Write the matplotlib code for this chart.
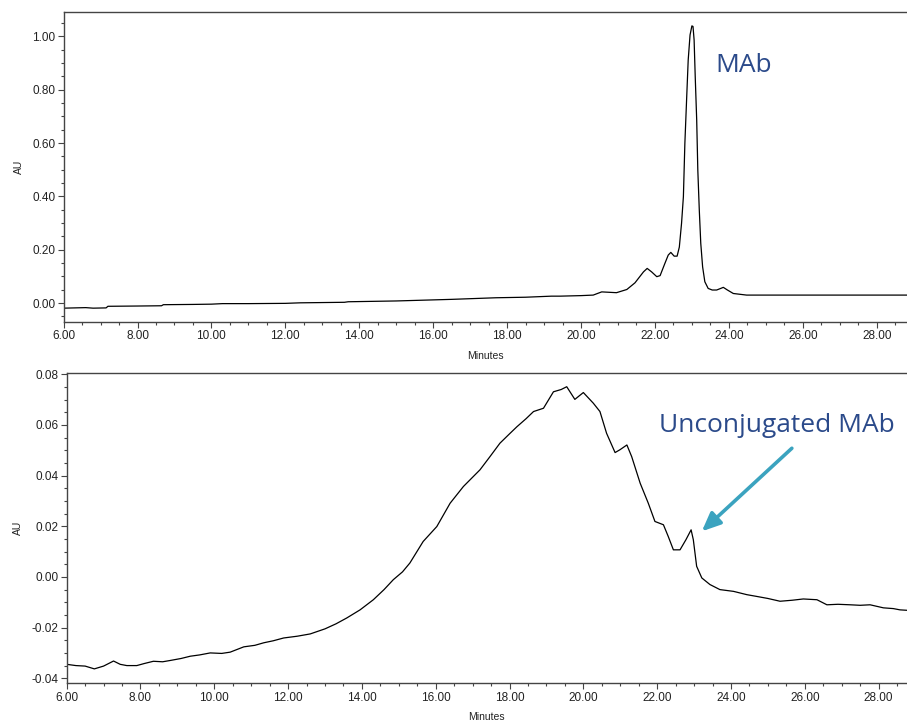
import numpy as np
import matplotlib.pyplot as plt
from matplotlib.ticker import MultipleLocator, FormatStrFormatter

# top trace (MAb), minutes vs AU
t_top = [6.0, 6.3, 6.6, 6.8, 7.15, 7.2, 8.0, 8.65, 8.7, 9.5, 10.0, 10.3, 11.0, 12.0,
         12.4, 13.6, 13.7, 15.0, 16.5, 17.7, 18.5, 19.2, 19.43, 20.0, 20.33, 20.56,
         20.96, 21.24, 21.46, 21.69, 21.79, 21.91, 22.05, 22.14, 22.27, 22.36, 22.43,
         22.52, 22.6, 22.66, 22.72, 22.77, 22.81, 22.86, 22.9, 22.95, 23.0, 23.03,
         23.06, 23.09, 23.13, 23.16, 23.2, 23.24, 23.29, 23.35, 23.44, 23.55, 23.67,
         23.78, 23.85, 23.95, 24.12, 24.48, 25.5, 26.5, 27.5, 28.85]
au_top = [-0.019, -0.018, -0.017, -0.019, -0.018, -0.012, -0.011, -0.010, -0.006,
          -0.005, -0.004, -0.002, -0.002, -0.001, 0.001, 0.003, 0.005, 0.008, 0.014,
          0.020, 0.022, 0.026, 0.026, 0.028, 0.030, 0.042, 0.039, 0.051, 0.076, 0.117,
          0.130, 0.117, 0.099, 0.103, 0.149, 0.180, 0.190, 0.176, 0.176, 0.210, 0.299,
          0.399, 0.599, 0.774, 0.911, 1.005, 1.039, 1.037, 0.986, 0.849, 0.686, 0.499,
          0.349, 0.224, 0.136, 0.080, 0.055, 0.049, 0.049, 0.055, 0.059, 0.050, 0.036,
          0.030, 0.030, 0.030, 0.030, 0.030]

# bottom trace (conjugate)
t_bot = [6.0, 6.25, 6.5, 6.75, 7.0, 7.27, 7.45, 7.63, 7.9, 8.1, 8.35, 8.6, 8.8, 9.1,
         9.35, 9.6, 9.89, 10.2, 10.43, 10.8, 11.1, 11.34, 11.6, 11.88, 12.25, 12.6,
         13.0, 13.3, 13.59, 13.95, 14.31, 14.6, 14.85, 15.1, 15.3, 15.66, 16.03, 16.39,
         16.75, 17.2, 17.47, 17.74, 18.0, 18.2, 18.45, 18.65, 18.92, 19.19, 19.4, 19.55,
         19.77, 20.0, 20.27, 20.45, 20.63, 20.86, 20.99, 21.18, 21.31, 21.54, 21.76,
         21.94, 22.17, 22.3, 22.44, 22.62, 22.78, 22.92, 22.98, 23.07, 23.21, 23.43,
         23.7, 24.07, 24.43, 24.7, 25.0, 25.33, 25.66, 25.96, 26.33, 26.6, 26.9, 27.23,
         27.5, 27.77, 28.13, 28.4, 28.58, 28.8]
au_bot = [-0.0345, -0.0350, -0.0352, -0.0363, -0.0352, -0.0332, -0.0345, -0.0350,
          -0.0350, -0.0342, -0.0333, -0.0335, -0.0330, -0.0322, -0.0313, -0.0308,
          -0.0300, -0.0302, -0.0297, -0.0276, -0.0270, -0.0260, -0.0252, -0.0241,
          -0.0234, -0.0225, -0.0205, -0.0185, -0.0162, -0.0130, -0.0090, -0.0050,
          -0.0011, 0.0020, 0.0055, 0.0140, 0.0199, 0.0291, 0.0357, 0.0423, 0.0475,
          0.0528, 0.0565, 0.0593, 0.0625, 0.0653, 0.0666, 0.0731, 0.0740, 0.0751,
          0.0701, 0.0728, 0.0686, 0.0653, 0.0567, 0.0491, 0.0502, 0.0521, 0.0475,
          0.0370, 0.0291, 0.0219, 0.0206, 0.0160, 0.0107, 0.0107, 0.0147, 0.0186,
          0.0147, 0.0042, -0.0004, -0.0030, -0.0050, -0.0057, -0.0070, -0.0077,
          -0.0085, -0.0096, -0.0092, -0.0087, -0.0090, -0.0110, -0.0108, -0.0110,
          -0.0112, -0.0110, -0.0122, -0.0125, -0.0130, -0.0132]

plt.rcParams['font.family'] = ['Liberation Sans', 'DejaVu Sans']

fig = plt.figure(figsize=(9.07, 7.24), dpi=100)
ax1 = fig.add_axes([0.0701, 0.5552, 0.9299, 0.4282])
ax2 = fig.add_axes([0.0735, 0.0562, 0.9265, 0.4282])

spine_col = '#444444'
txt_col = '#2B4A8A'

for ax in (ax1, ax2):
    ax.spines['right'].set_visible(False)
    for s in ('left', 'top', 'bottom'):
        ax.spines[s].set_color(spine_col)
        ax.spines[s].set_linewidth(1.0)
    ax.xaxis.set_major_locator(MultipleLocator(2))
    ax.xaxis.set_minor_locator(MultipleLocator(0.5))
    ax.xaxis.set_major_formatter(FormatStrFormatter('%.2f'))
    ax.yaxis.set_major_formatter(FormatStrFormatter('%.2f'))
    ax.tick_params(which='major', length=4, width=0.8, color=spine_col,
                   labelsize=8.5, labelcolor='#222222', pad=2)
    ax.tick_params(which='minor', length=2.2, width=0.8, color=spine_col)
    ax.set_xlabel('Minutes', fontsize=7.5, color='#222222', labelpad=6)
    ax.set_ylabel('AU', fontsize=7.5, color='#222222', labelpad=6)

ax1.plot(t_top, au_top, color='black', lw=0.9)
ax1.set_xlim(6, 28.82)
ax1.set_ylim(-0.071, 1.091)
ax1.yaxis.set_major_locator(MultipleLocator(0.2))
ax1.yaxis.set_minor_locator(MultipleLocator(0.05))
ax1.text(23.64, 0.867, 'MAb', family='Open Sans', fontsize=19, color=txt_col,
         va='baseline', ha='left')

ax2.plot(t_bot, au_bot, color='black', lw=0.9)
ax2.set_xlim(6, 28.77)
ax2.set_ylim(-0.042, 0.0804)
ax2.yaxis.set_major_locator(MultipleLocator(0.02))
ax2.yaxis.set_minor_locator(MultipleLocator(0.005))
ax2.text(22.05, 0.0574, 'Unconjugated MAb', family='Open Sans', fontsize=19,
         color=txt_col, va='baseline', ha='left')
ax2.annotate('', xy=(23.21, 0.0180), xytext=(25.65, 0.0508),
             arrowprops=dict(arrowstyle='-|>,head_length=0.8,head_width=0.35',
                             color='#3BA3BF', lw=2.6, shrinkA=0, shrinkB=0,
                             mutation_scale=14))

fig.savefig('out.png', dpi=100)
